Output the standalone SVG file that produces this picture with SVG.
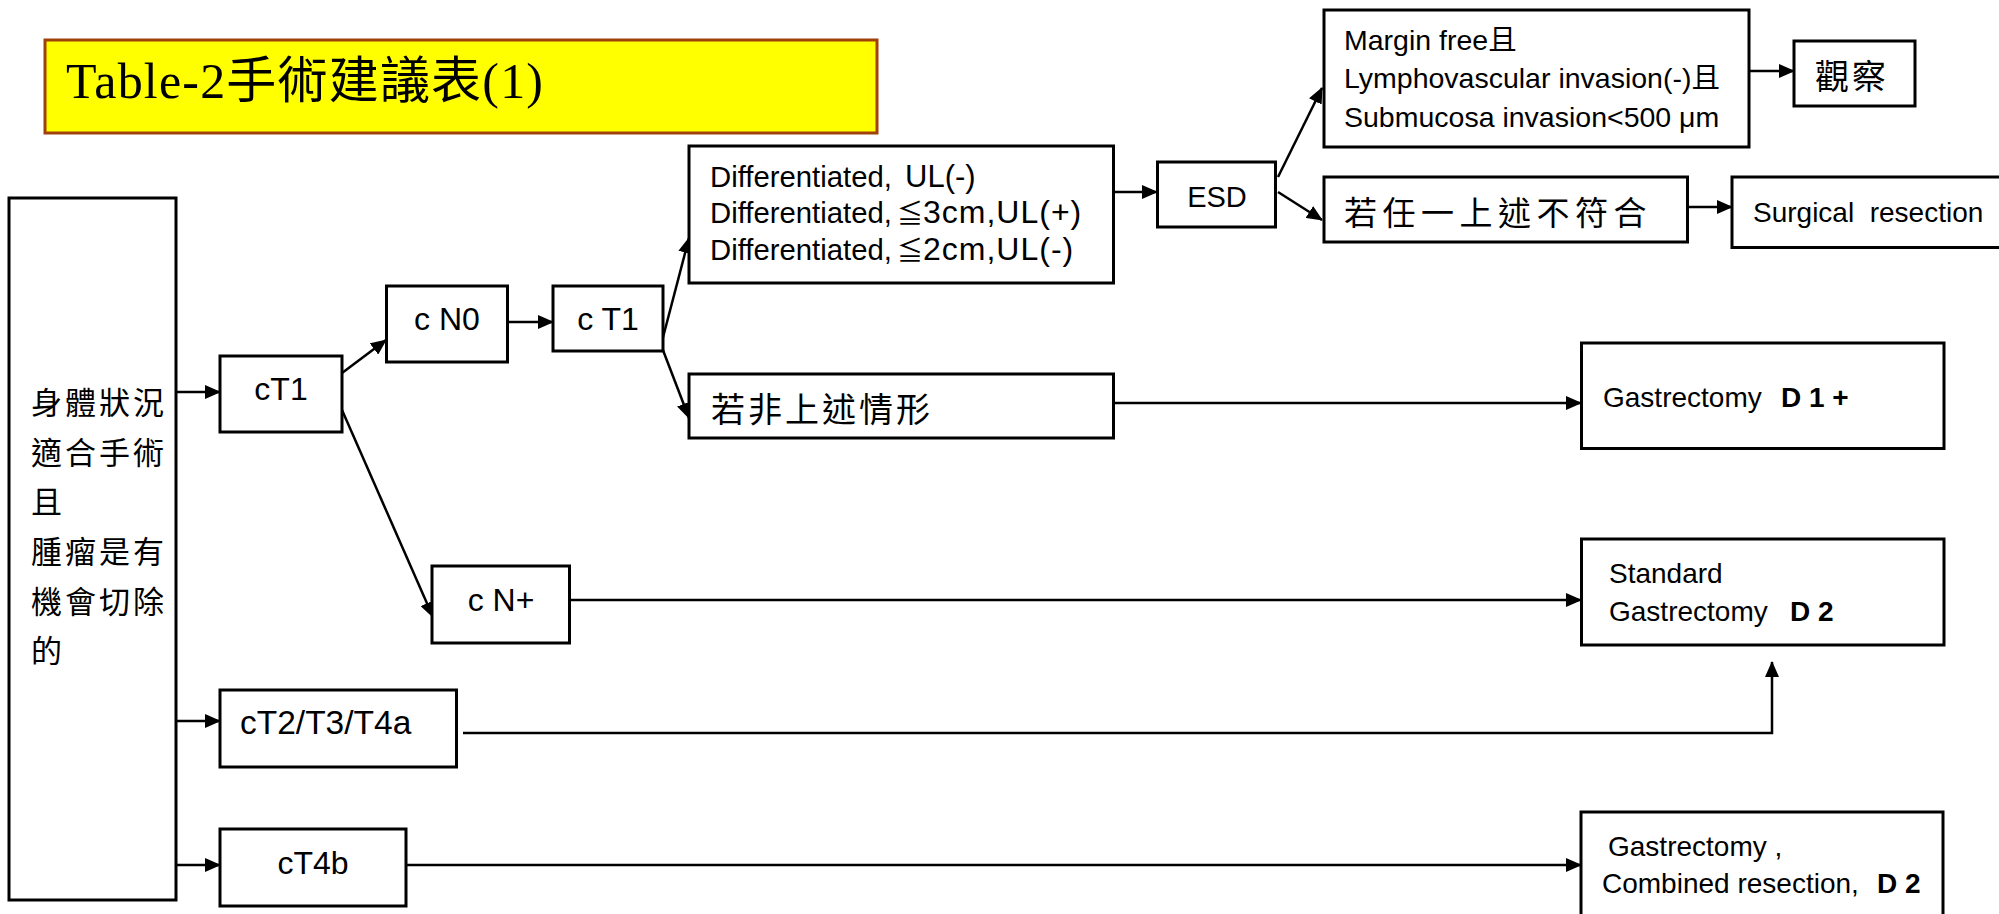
<svg xmlns="http://www.w3.org/2000/svg" width="1999" height="914" viewBox="0 0 1999 914">
<defs>
<style>
.box{fill:#fff;stroke:#000;stroke-width:3}
.ln{fill:none;stroke:#000;stroke-width:2.5}
.lbl{font-family:"Liberation Sans","Noto Sans CJK TC",sans-serif;fill:#000}
.nd{font-family:"Liberation Sans","Noto Sans CJK TC",sans-serif;fill:#000;text-anchor:middle}
.cjk{font-family:"Noto Sans CJK TC",sans-serif;fill:#000}
.b{font-weight:bold}
</style>
<marker id="ah" markerUnits="userSpaceOnUse" markerWidth="16" markerHeight="14" refX="15" refY="7" orient="auto">
<path d="M0,0 L16,7 L0,14 z" fill="#000"/>
</marker>
</defs>
<rect x="0" y="0" width="1999" height="914" fill="#fff"/>

<g id="title">
<rect x="45" y="40" width="832" height="93" fill="#FFFF00" stroke="#A0400A" stroke-width="3"/>
<text x="66" y="98" font-family="Liberation Serif,'Noto Sans CJK TC',serif" font-size="50" textLength="477" lengthAdjust="spacing" fill="#000">Table-2手術建議表(1)</text>
</g>

<g id="connectors">
<line class="ln" x1="176" y1="392" x2="220" y2="392" marker-end="url(#ah)"/>
<line class="ln" x1="342" y1="373" x2="386" y2="340" marker-end="url(#ah)"/>
<line class="ln" x1="508" y1="322" x2="553" y2="322" marker-end="url(#ah)"/>
<line class="ln" x1="661" y1="345" x2="689" y2="238" marker-end="url(#ah)"/>
<line class="ln" x1="661" y1="345" x2="689" y2="418" marker-end="url(#ah)"/>
<line class="ln" x1="1113" y1="192" x2="1157" y2="192" marker-end="url(#ah)"/>
<line class="ln" x1="1278" y1="177" x2="1322" y2="88" marker-end="url(#ah)"/>
<line class="ln" x1="1278" y1="192" x2="1322" y2="220" marker-end="url(#ah)"/>
<line class="ln" x1="1749" y1="71" x2="1794" y2="71" marker-end="url(#ah)"/>
<line class="ln" x1="1687" y1="207" x2="1732" y2="207" marker-end="url(#ah)"/>
<line class="ln" x1="1113" y1="403" x2="1581" y2="403" marker-end="url(#ah)"/>
<line class="ln" x1="342" y1="410" x2="433" y2="617" marker-end="url(#ah)"/>
<line class="ln" x1="569" y1="600" x2="1581" y2="600" marker-end="url(#ah)"/>
<line class="ln" x1="176" y1="721" x2="220" y2="721" marker-end="url(#ah)"/>
<polyline class="ln" points="463,733 1772,733 1772,662" marker-end="url(#ah)"/>
<line class="ln" x1="176" y1="865" x2="220" y2="865" marker-end="url(#ah)"/>
<line class="ln" x1="406" y1="865" x2="1581" y2="865" marker-end="url(#ah)"/>
</g>

<g id="condition">
<rect class="box" x="9" y="198" width="167" height="702"/>
<text class="cjk" font-size="31" letter-spacing="3">
<tspan x="31" y="414">身體狀況</tspan>
<tspan x="31" y="464">適合手術</tspan>
<tspan x="31" y="513">且</tspan>
<tspan x="31" y="563">腫瘤是有</tspan>
<tspan x="31" y="613">機會切除</tspan>
<tspan x="31" y="662">的</tspan>
</text>
</g>

<g id="cT1">
<rect class="box" x="220" y="356" width="122" height="76"/>
<text class="nd" x="281" y="400" font-size="32">cT1</text>
</g>

<g id="cN0">
<rect class="box" x="386.5" y="286" width="121" height="76"/>
<text class="nd" x="447" y="330" font-size="32">c N0</text>
</g>

<g id="cT1b">
<rect class="box" x="553" y="286" width="110" height="65"/>
<text class="nd" x="608" y="330" font-size="32">c T1</text>
</g>

<g id="differentiated">
<rect class="box" x="689" y="146" width="424.5" height="137"/>
<text class="lbl" font-size="29.3"><tspan x="710" y="187">Differentiated,</tspan><tspan x="905" y="187" font-size="31">UL(-)</tspan></text>
<text class="lbl" font-size="29.3"><tspan x="710" y="223">Differentiated,</tspan><tspan class="cjk" x="897" y="223" font-size="26">≦</tspan><tspan x="923" y="223" font-size="32" letter-spacing="1">3cm,UL(+)</tspan></text>
<text class="lbl" font-size="29.3"><tspan x="710" y="260">Differentiated,</tspan><tspan class="cjk" x="897" y="260" font-size="26">≦</tspan><tspan x="923" y="260" font-size="32" letter-spacing="1">2cm,UL(-)</tspan></text>
</g>

<g id="other">
<rect class="box" x="689" y="374" width="424.5" height="64"/>
<text class="cjk" x="711" y="422" font-size="34" letter-spacing="3">若非上述情形</text>
</g>

<g id="esd">
<rect class="box" x="1157.5" y="162" width="118" height="65"/>
<text class="nd" x="1217" y="207" font-size="29">ESD</text>
</g>

<g id="margin">
<rect class="box" x="1324" y="10" width="425" height="137"/>
<text class="lbl" font-size="28.5">
<tspan x="1344" y="50">Margin free且</tspan>
<tspan x="1344" y="88">Lymphovascular invasion(-)且</tspan>
<tspan x="1344" y="127">Submucosa invasion&lt;500 μm</tspan>
</text>
</g>

<g id="observe">
<rect class="box" x="1794" y="41" width="121" height="65"/>
<text class="cjk" x="1815" y="89" font-size="34" letter-spacing="3">觀察</text>
</g>

<g id="notmet">
<rect class="box" x="1324" y="177" width="363.5" height="65"/>
<text class="cjk" x="1344" y="225" font-size="33" letter-spacing="5.5">若任一上述不符合</text>
</g>

<g id="surgical">
<rect class="box" x="1732" y="177" width="300" height="70.5"/>
<text class="lbl" x="1753" y="222" font-size="28" xml:space="preserve">Surgical  resection</text>
</g>

<g id="d1plus">
<rect class="box" x="1581.5" y="343" width="362.5" height="105.5"/>
<text class="lbl" font-size="28"><tspan x="1603" y="407">Gastrectomy</tspan><tspan class="b" x="1781" y="407">D 1 +</tspan></text>
</g>

<g id="cNplus">
<rect class="box" x="432" y="566" width="137.5" height="77"/>
<text class="nd" x="501" y="611" font-size="32">c N+</text>
</g>

<g id="standard">
<rect class="box" x="1581.5" y="539" width="362.5" height="106"/>
<text class="lbl" x="1609" y="583" font-size="28">Standard</text>
<text class="lbl" font-size="28"><tspan x="1609" y="621">Gastrectomy</tspan><tspan class="b" x="1790" y="621">D 2</tspan></text>
</g>

<g id="cT2">
<rect class="box" x="220" y="690" width="236.5" height="77"/>
<text class="lbl" x="240" y="734" font-size="33.5">cT2/T3/T4a</text>
</g>

<g id="cT4b">
<rect class="box" x="220" y="829" width="186" height="77"/>
<text class="nd" x="313" y="874" font-size="32">cT4b</text>
</g>

<g id="combined">
<rect class="box" x="1581" y="812" width="362" height="115"/>
<text class="lbl" x="1608" y="856" font-size="28">Gastrectomy ,</text>
<text class="lbl" font-size="28"><tspan x="1602" y="893">Combined resection,</tspan><tspan class="b" x="1877" y="893">D 2</tspan></text>
</g>
</svg>
